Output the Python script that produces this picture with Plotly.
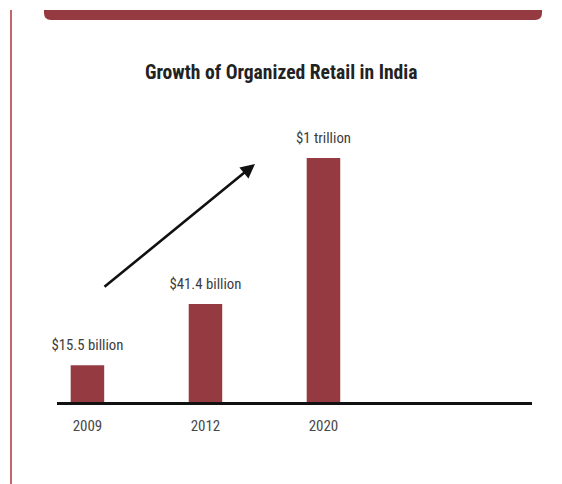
import plotly.graph_objects as go

# Organized retail market size, in billions of US dollars
years = ["2009", "2012", "2020"]
market_size_bn = [15.5, 41.4, 1000.0]
value_labels = ["$15.5 billion", "$41.4 billion", "$1 trillion"]

title_text = "Growth of Organized Retail in India"

W, H = 562, 484
ML, MR, MT, MB = 57, 30, 158, 82
PW, PH = W - ML - MR, H - MT - MB
Y_MAX = 103.1  # axis tops out here; the 2020 bar runs past it

BAR = "#963a41"
INK = "#3c3c3c"
NARROW = "Liberation Sans Narrow, Roboto Condensed, Arial Narrow, sans-serif"


def px_x(p):
    return (p - ML) / PW


def px_y(p):
    return (H - MB - p) / PH


fig = go.Figure()
fig.add_trace(go.Bar(
    x=years,
    y=market_size_bn,
    marker=dict(color=BAR, line=dict(width=0)),
    hoverinfo="skip",
))

# value labels sit just above each bar (or above the axis top for the tall one)
fig.add_trace(go.Scatter(
    x=years,
    y=[min(v, Y_MAX) for v in market_size_bn],
    mode="markers+text",
    text=value_labels,
    textposition="top center",
    textfont=dict(family=NARROW, size=14.8, color=INK),
    marker=dict(size=17, color="rgba(0,0,0,0)"),
    cliponaxis=False,
    hoverinfo="skip",
))

annotations = [
    # chart title
    dict(
        x=px_x(281), y=px_y(73), xref="paper", yref="paper",
        text="<b>" + title_text + "</b>", showarrow=False,
        xanchor="center", yanchor="middle",
        font=dict(family=NARROW, size=19.6, color="#222222"),
    ),
    # growth arrow
    dict(
        x=px_x(255), y=px_y(164), xref="paper", yref="paper",
        ax=103 - 255, ay=288 - 164, axref="pixel", ayref="pixel",
        text="", showarrow=True, arrowhead=2, arrowsize=1.1,
        arrowwidth=2.6, arrowcolor="#111111", standoff=0,
    ),
]

# header band with rounded lower corners
x0, x1 = px_x(44), px_x(542)
yt, yb = px_y(10), px_y(20)
rx = 7 / PW
ry = 7 / PH
band_path = (
    f"M {x0},{yt} L {x1},{yt} L {x1},{yb + ry} "
    f"Q {x1},{yb} {x1 - rx},{yb} L {x0 + rx},{yb} "
    f"Q {x0},{yb} {x0},{yb + ry} Z"
)

shapes = [
    dict(type="path", xref="paper", yref="paper", path=band_path,
         fillcolor=BAR, line=dict(width=0), layer="above"),
    dict(type="line", xref="paper", yref="paper",
         x0=px_x(11), x1=px_x(11), y0=px_y(10), y1=px_y(H),
         line=dict(color="#c2666d", width=2)),
]

fig.update_layout(
    width=W, height=H,
    margin=dict(l=ML, r=MR, t=MT, b=MB, pad=0),
    paper_bgcolor="white", plot_bgcolor="white",
    showlegend=False,
    bargap=0.716,
    annotations=annotations,
    shapes=shapes,
    xaxis=dict(
        type="category", range=[-0.258, 3.767],
        showline=True, linecolor="#111111", linewidth=2.6,
        showgrid=False, zeroline=False, ticks="",
        ticklabelstandoff=8,
        tickfont=dict(family=NARROW, size=15, color="#484848"),
        fixedrange=True,
    ),
    yaxis=dict(
        range=[0, Y_MAX], visible=False, showgrid=False,
        zeroline=False, fixedrange=True,
    ),
)

fig.write_html("out.html", config={"displayModeBar": False})
